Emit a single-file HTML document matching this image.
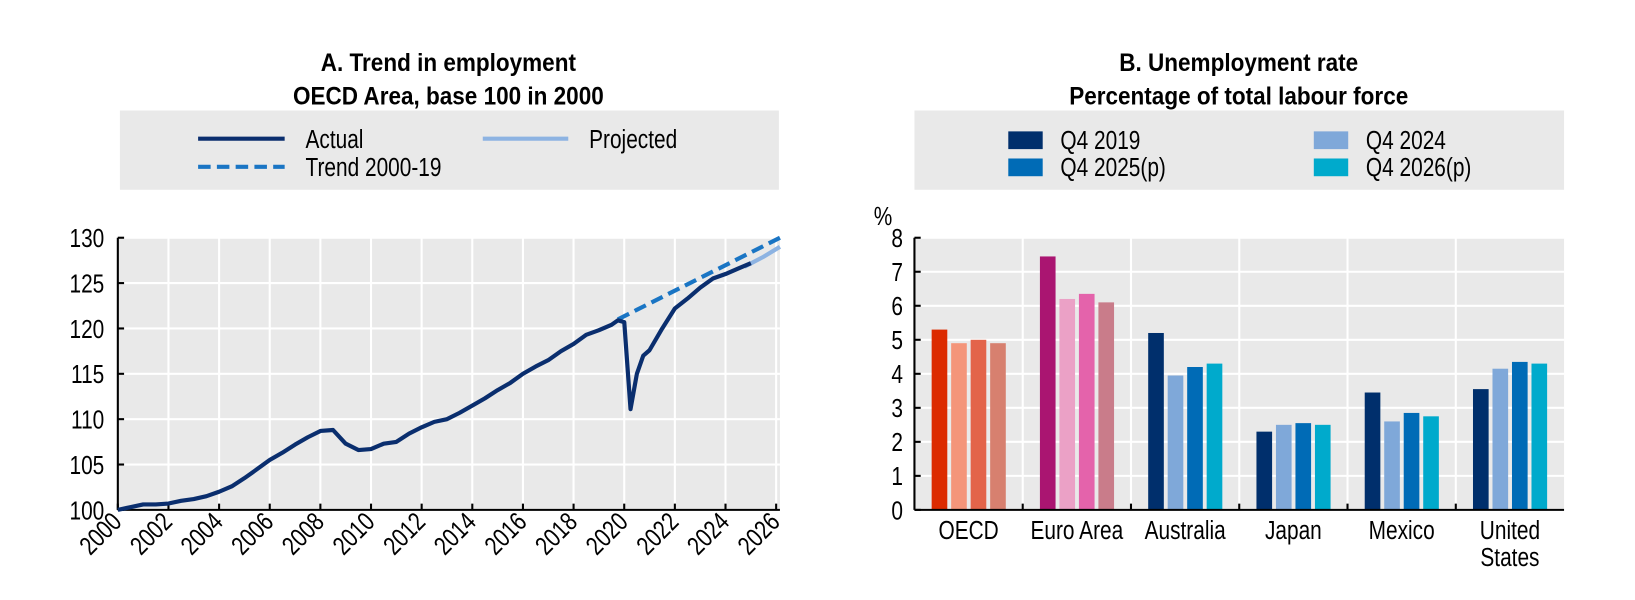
<!DOCTYPE html>
<html><head><meta charset="utf-8">
<style>
html,body{margin:0;padding:0;background:#fff;}
svg{display:block;font-family:"Liberation Sans",sans-serif;}
</style></head>
<body>
<svg id="c" width="1635" height="600" viewBox="0 0 1635 600" xmlns="http://www.w3.org/2000/svg">
<g transform="scale(1.0427)">
<g id="left"></g>
<g id="right"></g>
</g>
</svg>
<script>
// ---- Panel A data ----
const empYears = [2000,2000.5,2001,2001.5,2002,2002.5,2003,2003.5,2004,2004.5,2005,2005.5,2006,2006.5,2007,2007.5,2008,2008.5,2009,2009.5,2010,2010.5,2011,2011.5,2012,2012.5,2013,2013.5,2014,2014.5,2015,2015.5,2016,2016.5,2017,2017.5,2018,2018.5,2019,2019.5,2019.75,2020,2020.25,2020.5,2020.75,2021,2021.5,2022,2022.5,2023,2023.5,2024,2024.5,2025];
const empActual = [100,100.3,100.6,100.6,100.7,101,101.2,101.5,102,102.6,103.5,104.5,105.5,106.3,107.2,108,108.7,108.8,107.3,106.6,106.7,107.3,107.5,108.4,109.1,109.7,110,110.7,111.5,112.3,113.2,114,115,115.8,116.5,117.5,118.3,119.3,119.8,120.4,120.9,120.7,111.1,115,117,117.6,120,122.2,123.3,124.5,125.5,126,126.6,127.2];
const projYears = [2024.75,2025.5,2026.15];
const projValues = [126.8,127.9,129.0];
const trendYears = [2019.75,2026.15];
const trendValues = [121.0,130.0];
const empYTicks = [100,105,110,115,120,125,130];
const empXTicks = [2000,2002,2004,2006,2008,2010,2012,2014,2016,2018,2020,2022,2024,2026];

// ---- Panel B data ----
const countries = ["OECD","Euro Area","Australia","Japan","Mexico","United States"];
const q42019 = [5.3,7.45,5.2,2.3,3.45,3.55];
const q42024 = [4.9,6.2,3.95,2.5,2.6,4.15];
const q42025p = [5.0,6.35,4.2,2.55,2.85,4.35];
const q42026p = [4.9,6.1,4.3,2.5,2.75,4.3];
const unempYTicks = [0,1,2,3,4,5,6,7,8];

const NS="http://www.w3.org/2000/svg";
function mk(tag,attrs,parent,text){const e=document.createElementNS(NS,tag);for(const k in attrs)e.setAttribute(k,attrs[k]);if(text!==undefined)e.textContent=text;parent.appendChild(e);return e;}
const FS=25, SX=0.8;
function txt(parent,x,y,s,anchor,opts){
  opts=opts||{};
  const rot=opts.rot?` rotate(${opts.rot})`:'';
  const sx=opts.sx||SX;
  const a={x:0,y:0,'text-anchor':anchor||'start','font-size':opts.fs||FS,fill:'#000',transform:`translate(${x} ${y})${rot} scale(${sx} 1)`};
  if(opts.bold) a['font-weight']='bold';
  return mk('text',a,parent,s);
}

// ===== Panel A =====
const L=document.getElementById('left');
const ax0=113, ax1=748, ay0=489, ay1=228;
const xA=y=>ax0+(y-2000)/(2026.15-2000)*(ax1-ax0);
const yA=v=>ay0-(v-100)/30*(ay0-ay1);
let t;
t=txt(L,430,68,'A. Trend in employment','middle',{bold:true,sx:0.9,fs:24});


t=txt(L,430,100,'OECD Area, base 100 in 2000','middle',{bold:true,sx:0.9,fs:24});


const lg=mk('g',{},L);


mk('rect',{x:115,y:106,width:632,height:76,fill:'#e9e9e9'},lg);
mk('line',{x1:190,y1:133,x2:273,y2:133,stroke:'#0a2e6e','stroke-width':4},lg);
txt(lg,293,142,'Actual');
mk('line',{x1:463,y1:133,x2:545,y2:133,stroke:'#8db3e2','stroke-width':4},lg);
txt(lg,565,142,'Projected');
mk('line',{x1:190,y1:160,x2:273,y2:160,stroke:'#1a75c4','stroke-width':4,'stroke-dasharray':'12,6'},lg);
txt(lg,293,169,'Trend 2000-19');
mk('rect',{x:ax0,y:ay1,width:ax1-ax0,height:ay0-ay1,fill:'#e9e9e9'},L);
empYTicks.forEach(v=>{
  mk('line',{x1:ax0,x2:ax1,y1:yA(v),y2:yA(v),stroke:'#fff','stroke-width':2},L);
  mk('line',{x1:ax0,x2:ax0+6,y1:yA(v),y2:yA(v),stroke:'#000','stroke-width':2},L);
  const tx=txt(L,100,yA(v)+9,String(v),'end');
  
  
});
empXTicks.forEach(y=>{
  const x=xA(y);
  if(y>2000) mk('line',{x1:x,x2:x,y1:ay1,y2:ay0,stroke:'#fff','stroke-width':2},L);
  mk('line',{x1:x,x2:x,y1:ay0,y2:ay0-6,stroke:'#000','stroke-width':2},L);
  const tx=txt(L,x+5,ay0+13,String(y),'end',{rot:-45});
  
  
});
mk('line',{x1:ax0,x2:ax0,y1:ay1,y2:ay0,stroke:'#000','stroke-width':2},L);
mk('line',{x1:ax0,x2:ax1,y1:ay0,y2:ay0,stroke:'#000','stroke-width':2},L);
const pts=(xs,vs)=>xs.map((y,i)=>xA(y).toFixed(1)+','+yA(vs[i]).toFixed(1)).join(' ');
let p;
p=mk('polyline',{points:pts(projYears,projValues),fill:'none',stroke:'#8db3e2','stroke-width':4},L);


p=mk('polyline',{points:pts(trendYears,trendValues),fill:'none',stroke:'#1a75c4','stroke-width':4,'stroke-dasharray':'12,6'},L);


p=mk('polyline',{points:pts(empYears,empActual),fill:'none',stroke:'#0a2e6e','stroke-width':4,'stroke-linejoin':'round'},L);



// ===== Panel B =====
const R=document.getElementById('right');
const bx0=877, bx1=1500, by0=489, by1=228;
const yB=v=>by0-v/8*(by0-by1);
const cw=(bx1-bx0)/countries.length;
t=txt(R,1188,68,'B. Unemployment rate','middle',{bold:true,sx:0.9,fs:24});


t=txt(R,1188,100,'Percentage of total labour force','middle',{bold:true,sx:0.9,fs:24});


const lg2=mk('g',{},R);


mk('rect',{x:877,y:106,width:623,height:76,fill:'#e9e9e9'},lg2);
[[967,126,'#002f6c','Q4 2019'],[1260,126,'#7fa8d9','Q4 2024'],[967,152,'#006bb6','Q4 2025(p)'],[1260,152,'#00aacc','Q4 2026(p)']].forEach(d=>{
  mk('rect',{x:d[0],y:d[1],width:33,height:17,fill:d[2]},lg2);
  txt(lg2,d[0]+50,d[1]+17,d[3]);
});
mk('rect',{x:bx0,y:by1,width:bx1-bx0,height:by0-by1,fill:'#e9e9e9'},R);
unempYTicks.forEach(v=>{
  mk('line',{x1:bx0,x2:bx1,y1:yB(v),y2:yB(v),stroke:'#fff','stroke-width':2},R);
  mk('line',{x1:bx0,x2:bx0+6,y1:yB(v),y2:yB(v),stroke:'#000','stroke-width':2},R);
  const tx=txt(R,866,yB(v)+9,String(v),'end');
  
  
});
txt(R,838,216,'%');
const groupColors=[['#dc2b00','#f4957a','#e3644a','#d7806f'],['#aa1571','#eba1c6','#e463ab','#c97c8a']];
const defColors=['#002f6c','#7fa8d9','#006bb6','#00aacc'];
const series=[q42019,q42024,q42025p,q42026p];
const seriesNames=['q4-2019','q4-2024','q4-2025p','q4-2026p'];
countries.forEach((c,i)=>{
  const gx=bx0+i*cw;
  if(i>0){mk('line',{x1:gx,x2:gx,y1:by1,y2:by0,stroke:'#fff','stroke-width':2},R);
    mk('line',{x1:gx,x2:gx,y1:by0,y2:by0-6,stroke:'#000','stroke-width':2},R);}
  const cols=i<2?groupColors[i]:defColors;
  series.forEach((s,j)=>{
    const x=gx+16.5+j*18.7;
    const r=mk('rect',{x:x,y:yB(s[i]),width:15,height:by0-yB(s[i]),fill:cols[j]},R);
    
    
  });
  const cx=gx+cw/2;
  if(c==='United States'){
    txt(R,cx,517,'United','middle');
    txt(R,cx,543,'States','middle');
  } else {
    const tx=txt(R,cx,517,c,'middle');
    
    
  }
});
mk('line',{x1:bx0,x2:bx0,y1:by1,y2:by0,stroke:'#000','stroke-width':2},R);
mk('line',{x1:bx0,x2:bx1,y1:by0,y2:by0,stroke:'#000','stroke-width':2},R);
</script>
</body></html>
